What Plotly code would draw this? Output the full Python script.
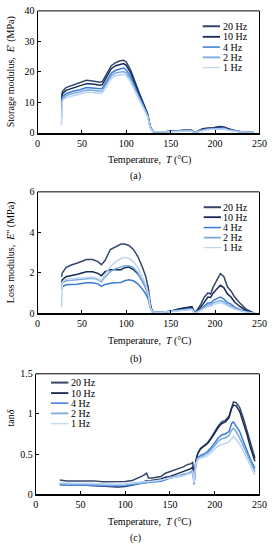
import plotly.graph_objects as go

W, H = 277, 550
FONT = "Liberation Serif"

names = ["20 Hz", "10 Hz", "4 Hz", "2 Hz", "1 Hz"]
colors = ["#34476a", "#152a55", "#3a7bd5", "#7aa9e3", "#bcd5f2"]
widths = [2.0, 1.8, 1.5, 1.8, 1.2]

# Panel (a): storage modulus E' (MPa)
T_a = [27, 28, 32, 40, 48, 55, 62, 70, 73, 78, 83, 88, 93, 97, 100, 105, 110, 115, 120, 124,
       127, 130, 140, 150, 160, 170, 174, 177, 180, 186, 192, 198, 205, 210, 215, 220, 225, 230, 237, 245]
E1_20 = [11, 13.5, 14.8, 15.6, 16.3, 17.2, 17, 16.6, 16.8, 19.5, 22, 23, 23.6, 23.8, 23.2, 20.5, 16.5, 12.8, 9.2, 6.2,
         2, 0.4, 0.2, 0.4, 0.8, 0.9, 0.7, 0, 0.3, 1.3, 1.5, 1.6, 2.0, 1.9, 1.3, 0.8, 0.5, 0.3, 0.1, 0]
E1_10 = [10, 12.8, 13.9, 14.7, 15.3, 16.1, 16, 15.6, 15.8, 18.5, 21, 22, 22.5, 22.7, 22.1, 19.6, 15.8, 12.3, 8.9, 6.0,
         1.9, 0.4, 0.2, 0.4, 0.8, 0.9, 0.7, 0, 0.3, 1.2, 1.4, 1.5, 1.9, 1.8, 1.2, 0.8, 0.5, 0.3, 0.1, 0]
E1_4 = [8, 11.8, 12.8, 13.6, 14.1, 14.8, 14.7, 14.4, 14.6, 17.2, 19.5, 20.5, 21, 21.2, 20.6, 18.3, 14.8, 11.6, 8.4, 5.7,
        1.8, 0.4, 0.2, 0.4, 0.7, 0.8, 0.6, 0, 0.3, 1.0, 1.2, 1.3, 1.6, 1.5, 1.0, 0.7, 0.4, 0.25, 0.1, 0]
E1_2 = [5, 11.2, 12.1, 12.9, 13.4, 14, 13.9, 13.6, 13.8, 16.4, 18.6, 19.6, 20, 20.1, 19.6, 17.4, 14.1, 11.1, 8.0, 5.5,
        1.7, 0.4, 0.2, 0.4, 0.7, 0.8, 0.6, 0, 0.3, 0.9, 1.1, 1.2, 1.5, 1.4, 0.9, 0.6, 0.4, 0.2, 0.1, 0]
E1_1 = [2.5, 10.5, 11.5, 12.2, 12.7, 13.3, 13.2, 12.9, 13.1, 15.6, 17.8, 18.7, 19.1, 19.2, 18.7, 16.6, 13.5, 10.6, 7.7, 5.3,
        1.6, 0.3, 0.2, 0.3, 0.6, 0.7, 0.5, 0, 0.2, 0.8, 1.0, 1.1, 1.3, 1.2, 0.8, 0.5, 0.3, 0.2, 0.1, 0]

# Panel (b): loss modulus E'' (MPa)
T_b = [27, 28, 32, 38, 45, 55, 62, 68, 72, 76, 82, 88, 94, 98, 103, 108, 113, 118, 122, 125,
       127, 129, 132, 140, 150, 160, 170, 174, 177, 180, 184, 188, 192, 195, 198, 202, 206, 210, 214, 218,
       222, 228, 235, 242, 245]
E2_20 = [1.8, 2.0, 2.25, 2.38, 2.48, 2.65, 2.65, 2.55, 2.4, 2.6, 3.15, 3.3, 3.42, 3.42, 3.35, 3.15, 2.8, 2.3, 1.8, 1.2,
         0.5, 0.12, 0.05, 0.05, 0.1, 0.22, 0.3, 0.32, 0.02, 0.15, 0.45, 0.8, 1.0, 0.95, 1.3, 1.6, 1.95, 1.8, 1.3, 1.1,
         0.8, 0.5, 0.2, 0.05, 0]
E2_10 = [1.5, 1.65, 1.8, 1.85, 1.92, 2.05, 2.05, 1.97, 1.85, 2.05, 2.15, 2.15, 2.15, 2.25, 2.28, 2.15, 1.95, 1.6, 1.25, 0.9,
         0.35, 0.1, 0.05, 0.05, 0.1, 0.2, 0.28, 0.3, 0.02, 0.1, 0.3, 0.55, 0.8, 0.78, 1.0, 1.2, 1.38, 1.25, 0.95, 0.8,
         0.55, 0.33, 0.12, 0.03, 0]
E2_4 = [1.2, 1.3, 1.4, 1.42, 1.43, 1.5, 1.5, 1.45, 1.32, 1.42, 1.48, 1.5, 1.52, 1.6, 1.65, 1.6, 1.45, 1.2, 0.95, 0.65,
        0.25, 0.07, 0.04, 0.04, 0.08, 0.15, 0.2, 0.22, 0.01, 0.07, 0.2, 0.35, 0.5, 0.5, 0.62, 0.72, 0.8, 0.7, 0.52, 0.45,
        0.3, 0.18, 0.07, 0.02, 0]
E2_2 = [1.35, 1.5, 1.6, 1.63, 1.65, 1.72, 1.72, 1.66, 1.55, 1.78, 2.05, 2.2, 2.3, 2.35, 2.35, 2.25, 2.0, 1.6, 1.25, 0.85,
        0.3, 0.08, 0.04, 0.04, 0.07, 0.13, 0.18, 0.2, 0.01, 0.06, 0.16, 0.28, 0.4, 0.4, 0.5, 0.57, 0.62, 0.55, 0.42, 0.35,
        0.25, 0.14, 0.05, 0.02, 0]
E2_1 = [0.3, 1.55, 1.68, 1.7, 1.72, 1.78, 1.77, 1.7, 1.62, 1.9, 2.3, 2.55, 2.7, 2.75, 2.7, 2.55, 2.25, 1.8, 1.4, 0.95,
        0.3, 0.08, 0.04, 0.04, 0.07, 0.12, 0.16, 0.18, 0.01, 0.05, 0.13, 0.22, 0.33, 0.33, 0.42, 0.48, 0.52, 0.46, 0.35, 0.28,
        0.2, 0.11, 0.04, 0.01, 0]

# Panel (c): tan delta
T_c = [27, 35, 45, 55, 65, 75, 85, 92, 100, 108, 115, 120, 124, 126, 130, 135, 140, 145, 150, 155,
       160, 165, 170, 174, 175.5, 177, 179, 181, 184, 188, 192, 196, 200, 204, 208, 212, 216, 219, 221, 224,
       228, 232, 236, 240, 245]
D_20 = [0.175, 0.165, 0.165, 0.165, 0.165, 0.155, 0.155, 0.155, 0.158, 0.17, 0.2, 0.23, 0.26, 0.2, 0.2, 0.21, 0.22, 0.26, 0.28, 0.3,
        0.32, 0.34, 0.37, 0.38, 0.4, 0.18, 0.42, 0.5, 0.57, 0.6, 0.64, 0.7, 0.78, 0.85, 0.9, 0.92, 0.97, 1.1, 1.15, 1.14,
        1.08, 0.95, 0.8, 0.62, 0.45]
D_10 = [0.13, 0.125, 0.12, 0.12, 0.115, 0.105, 0.095, 0.09, 0.095, 0.11, 0.13, 0.15, 0.17, 0.165, 0.17, 0.18, 0.19, 0.21, 0.22, 0.24,
        0.26, 0.28, 0.3, 0.32, 0.34, 0.15, 0.4, 0.5, 0.56, 0.59, 0.63, 0.69, 0.76, 0.83, 0.88, 0.9, 0.95, 1.07, 1.11, 1.1,
        1.03, 0.9, 0.75, 0.58, 0.41]
D_4 = [0.115, 0.11, 0.11, 0.11, 0.11, 0.105, 0.1, 0.1, 0.105, 0.12, 0.13, 0.14, 0.15, 0.145, 0.15, 0.155, 0.16, 0.18, 0.2, 0.21,
       0.22, 0.24, 0.25, 0.27, 0.3, 0.12, 0.38, 0.45, 0.48, 0.5, 0.53, 0.58, 0.64, 0.7, 0.74, 0.75, 0.78, 0.88, 0.9, 0.85,
       0.78, 0.66, 0.55, 0.43, 0.32]
D_2 = [0.125, 0.12, 0.12, 0.12, 0.12, 0.115, 0.11, 0.11, 0.115, 0.125, 0.135, 0.145, 0.155, 0.15, 0.155, 0.16, 0.17, 0.19, 0.21, 0.22,
       0.23, 0.25, 0.26, 0.28, 0.3, 0.13, 0.38, 0.44, 0.46, 0.48, 0.51, 0.55, 0.6, 0.66, 0.69, 0.7, 0.73, 0.8, 0.82, 0.78,
       0.7, 0.6, 0.5, 0.39, 0.28]
D_1 = [0.14, 0.135, 0.135, 0.135, 0.135, 0.13, 0.125, 0.125, 0.13, 0.14, 0.15, 0.155, 0.165, 0.16, 0.16, 0.165, 0.175, 0.19, 0.2, 0.21,
       0.22, 0.23, 0.25, 0.26, 0.28, 0.14, 0.38, 0.43, 0.45, 0.46, 0.48, 0.52, 0.56, 0.6, 0.62, 0.63, 0.65, 0.7, 0.72, 0.68,
       0.62, 0.54, 0.45, 0.34, 0.24]

x_ticks = [0, 50, 100, 150, 200, 250]
panels = [
    dict(T=T_a, ys=[E1_20, E1_10, E1_4, E1_2, E1_1], yr=[0, 40], dt=10,
         px=(36, 267), py=(5, 129.5),
         ytitle="Storage modulus,  <i>E</i>' (MPa)", ytitle_y=67,
         xt_y=157, cap="(a)", cap_y=174, leg_x=208, leg_y=[20.7, 31.5, 42, 52.5, 63]),
    dict(T=T_b, ys=[E2_20, E2_10, E2_4, E2_2, E2_1], yr=[0, 6], dt=2,
         px=(36, 267), py=(190, 314),
         ytitle="Loss modulus,  <i>E</i>\" (MPa)", ytitle_y=252,
         xt_y=342, cap="(b)", cap_y=361, leg_x=209, leg_y=[205.7, 215.9, 226.5, 236.8, 247]),
    dict(T=T_c, ys=[D_20, D_10, D_4, D_2, D_1], yr=[0, 1.5], dt=0.5,
         px=(34, 267), py=(376, 499),
         ytitle="tan<i>δ</i>", ytitle_y=421,
         xt_y=527, cap="(c)", cap_y=544, leg_x=50, leg_y=[385, 395.7, 406, 416.5, 427]),
]

fig = go.Figure()
shapes, annots = [], []

def fx(p):
    return p / W

def fy(p):
    return 1 - p / H

for i, P in enumerate(panels):
    n = i + 1
    xa = "x" if n == 1 else f"x{n}"
    ya = "y" if n == 1 else f"y{n}"
    for k in range(5):
        fig.add_trace(go.Scatter(x=P["T"], y=P["ys"][k], mode="lines", name=names[k],
                                 line=dict(color=colors[k], width=1.5), xaxis=xa, yaxis=ya,
                                 showlegend=False))
    axkey = "" if n == 1 else str(n)
    fig.update_layout(**{
        f"xaxis{axkey}": dict(domain=[fx(P["px"][0]), fx(P["px"][1])], range=[0, 250],
                              tickvals=x_ticks, showline=True, linecolor="black", linewidth=2,
                              ticks="inside", ticklen=3, tickcolor="black", showgrid=False,
                              zeroline=False, anchor=ya, ticklabeloverflow="allow",
                              tickfont=dict(family=FONT, size=10, color="black")),
        f"yaxis{axkey}": dict(domain=[fy(P["py"][1]), fy(P["py"][0])], range=P["yr"],
                              dtick=P["dt"], showline=True, linecolor="black", linewidth=1,
                              mirror=True, ticks="inside", ticklen=3, tickcolor="black",
                              showgrid=False, zeroline=False, anchor=xa,
                              tickfont=dict(family=FONT, size=10, color="black")),
    })
    shapes.append(dict(type="line", xref=f"{xa} domain", yref=f"{ya} domain",
                       x0=0, x1=1, y0=1, y1=1, line=dict(color="black", width=1)))
    annots.append(dict(text=P["ytitle"], x=fx(8), y=fy(P["ytitle_y"]), xref="paper", yref="paper",
                       textangle=-90, showarrow=False, xanchor="center", yanchor="middle",
                       font=dict(family=FONT, size=10, color="black")))
    annots.append(dict(text="Temperature,  <i>T</i> (°C)", x=fx(153), y=fy(P["xt_y"]),
                       xref="paper", yref="paper", showarrow=False, xanchor="center",
                       yanchor="middle", font=dict(family=FONT, size=10, color="black")))
    annots.append(dict(text=P["cap"], x=fx(138), y=fy(P["cap_y"]), xref="paper", yref="paper",
                       showarrow=False, xanchor="center", yanchor="middle",
                       font=dict(family=FONT, size=10, color="black")))
    for k in range(5):
        yy = fy(P["leg_y"][k])
        shapes.append(dict(type="line", xref="paper", yref="paper",
                           x0=fx(P["leg_x"]), x1=fx(P["leg_x"] + 18), y0=yy, y1=yy,
                           line=dict(color=colors[k], width=widths[k])))
        annots.append(dict(text=names[k], x=fx(P["leg_x"] + 18.5), y=yy, xref="paper", yref="paper",
                           showarrow=False, xanchor="left", yanchor="middle",
                           font=dict(family=FONT, size=10, color="black")))

fig.update_layout(width=W, height=H, margin=dict(l=0, r=0, t=0, b=0),
                  paper_bgcolor="white", plot_bgcolor="white", showlegend=False,
                  shapes=shapes, annotations=annots)
fig.write_html("out.html", config={"displayModeBar": False},
               post_script="document.body.style.margin='0';document.body.style.padding='0';"
                           "document.body.style.overflow='hidden';")
